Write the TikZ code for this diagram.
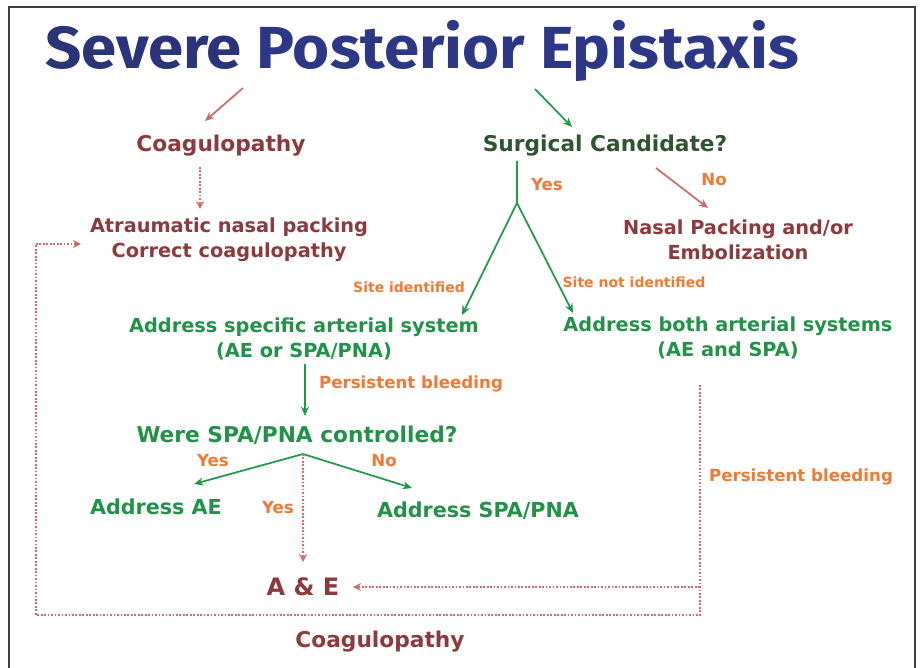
\documentclass[tikz,border=0pt]{standalone}
\usepackage{fontspec}
\setmainfont{DejaVu Sans}
\newfontfamily\titlefont{Fira Sans}
\usetikzlibrary{arrows.meta,calc}
\definecolor{navy}{HTML}{2B3479}
\definecolor{navyb}{HTML}{2C3886}
\definecolor{dred}{HTML}{8C3A3D}
\definecolor{lred}{HTML}{C96B6B}
\definecolor{dotred}{HTML}{D46A6A}
\definecolor{gtext}{HTML}{22924A}
\definecolor{dgreen}{HTML}{2F5530}
\definecolor{garrow}{HTML}{1F9A48}
\definecolor{orng}{HTML}{EE7B35}
\begin{document}
\begin{tikzpicture}[x=0.75pt,y=-0.75pt,
  txt/.style={inner sep=0pt,align=center,font=\bfseries\fontsize{14.5pt}{19pt}\selectfont},
  bigt/.style={font=\bfseries\fontsize{16.3pt}{19pt}\selectfont},
  redt/.style={txt,text=dred},
  grnt/.style={txt,text=gtext},
  lab/.style={inner sep=0pt,text=orng,font=\bfseries\fontsize{12.5pt}{14pt}\selectfont},
  slab/.style={inner sep=0pt,text=orng,font=\bfseries\fontsize{10.5pt}{12pt}\selectfont},
  garr/.style={draw=garrow,line width=1.3pt,-{Stealth[length=7pt,width=6pt]}},
  gline/.style={draw=garrow,line width=1.3pt},
  rarr/.style={draw=lred,line width=1.3pt,-{Stealth[length=7pt,width=6pt]}},
  dots/.style={draw=dotred,line width=1.4pt,dash pattern=on 1.3pt off 1.3pt},
  darr/.style={dots,-{Stealth[length=6pt,width=6pt]}}
]
\useasboundingbox (0,0) rectangle (922,668);
\fill[white] (0,0) rectangle (922,668);
% frame
\draw[black!75,line width=1.3pt] (9,668) -- (9,7) -- (915,7) -- (915,668);

% title
\node[inner sep=0pt,text=navyb,font=\titlefont\bfseries\fontsize{44.5pt}{50pt}\selectfont] (title) at (422,51) {\scalebox{1.07}[1]{\textcolor{navy}{Severe} Posterior Epistaxis}};

% nodes
\node[redt,bigt] (coag1) at (221,146) {Coagulopathy};
\node[redt] (pack) at (229,240) {Atraumatic nasal packing\\Correct coagulopathy};
\node[txt,bigt,text=dgreen] (surg) at (605,146) {Surgical Candidate?};
\node[redt] (nasal) at (738,240) {Nasal Packing and/or\\Embolization};
\node[grnt] (spec) at (304,339) {Address specific arterial system\\(AE or SPA/PNA)};
\node[grnt] (both) at (728,338) {Address both arterial systems\\(AE and SPA)};
\node[grnt,bigt] (were) at (297,435) {Were SPA/PNA controlled?};
\node[grnt,font=\bfseries\fontsize{15.5pt}{19pt}\selectfont] (aae) at (156,507) {Address AE};
\node[grnt,font=\bfseries\fontsize{15.5pt}{19pt}\selectfont] (aspa) at (478,511) {Address SPA/PNA};
\node[redt,font=\bfseries\fontsize{18pt}{20pt}\selectfont] (ae) at (303,587) {A \& E};
\node[redt,bigt] (coag2) at (380,642) {Coagulopathy};

% labels
\node[lab] (yes1) at (547,185) {Yes};
\node[lab] (no1) at (714,180) {No};
\node[slab] (siteid) at (409,287) {Site identified};
\node[slab] (sitenot) at (634,282) {Site not identified};
\node[lab] (pb1) at (411,384) {Persistent bleeding};
\node[lab] (yes2) at (213,461) {Yes};
\node[lab] (no2) at (384,461) {No};
\node[lab] (yes3) at (278,508) {Yes};
\node[lab] (pb2) at (801,477) {Persistent bleeding};

% coordinates for connector ends
\coordinate (t1) at (243,88);
\coordinate (t1e) at (205,121);
\coordinate (t2) at (535,89);
\coordinate (t2e) at (572,127);
\coordinate (c1) at (200,167);
\coordinate (c1e) at (200,209);
\coordinate (sv) at (517,161);
\coordinate (fork) at (517,203);
\coordinate (sl) at (462,315);
\coordinate (sr) at (573,313);
\coordinate (n1) at (656,168);
\coordinate (n1e) at (708,208);
\coordinate (p1) at (305,364);
\coordinate (p1e) at (305,416);
\coordinate (wf) at (303,454);
\coordinate (wl) at (194,484);
\coordinate (wr) at (412,488);
\coordinate (we) at (303,562);
\coordinate (bv) at (700,385);
\coordinate (bc) at (700,615);
\coordinate (bm) at (700,587);
\coordinate (be) at (353,587);
\coordinate (lc) at (36,615);
\coordinate (lt) at (36,244);
\coordinate (lte) at (81,244);

% connectors
\draw[rarr] (t1) -- (t1e);
\draw[garr] (t2) -- (t2e);
\draw[darr] (c1) -- (c1e);
\draw[gline] (sv) -- (fork);
\draw[garr] (fork) -- (sl);
\draw[garr] (fork) -- (sr);
\draw[rarr] (n1) -- (n1e);
\draw[garr] (p1) -- (p1e);
\draw[garr] (wf) -- (wl);
\draw[garr] (wf) -- (wr);
\draw[darr] (wf) -- (we);
\draw[dots] (bv) -- (bc) -- (lc) -- (lt);
\draw[darr] (lt) -- (lte);
\draw[darr] (bm) -- (be);
\end{tikzpicture}
\end{document}
